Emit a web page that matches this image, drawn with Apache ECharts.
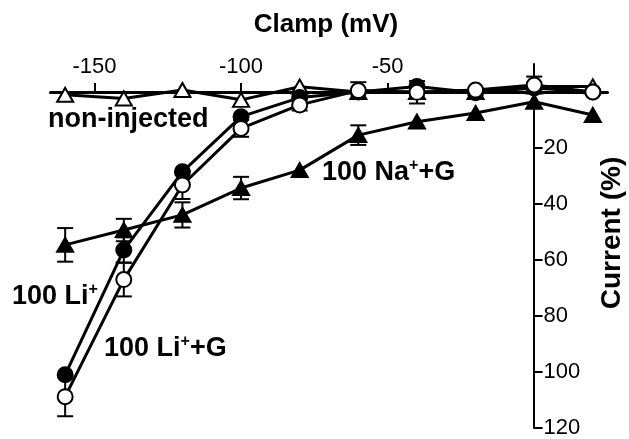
<!DOCTYPE html>
<html>
<head>
<meta charset="utf-8">
<script src="https://cdn.jsdelivr.net/npm/echarts@6/dist/echarts.min.js"></script>
<style>
  html, body { margin: 0; padding: 0; background: #fff; }
  #chart { width: 629px; height: 439px; }
</style>
</head>
<body>
<div id="chart"></div>
<script>
// Clamp voltages (mV)
const volts = [-160, -140, -120, -100, -80, -60, -40, -20, 0, 20];
// Current (%) series
const nonInjected = [-1, -2.3, 0.7, -2.8, 1.9, 0, 0, 0, 2, 2];
const li = [-101, -56.4, -28.5, -8.8, -2, 0, 2, -0.3, 1.4, 0];
const liG = [-108.8, -67, -33.2, -13, -4.6, 0.5, -0.1, 0.7, 2.5, 0];
const naG = [-54.6, -49.3, -43.9, -34.3, -27.9, -15.4, -10.6, -7.5, -3.5, -8.2];
// Error bars (+/-)
const naErr = [6, 4, 4.5, 4, 0, 3.5, 0, 0, 0, 0];
const liErr = [0, 4.5, 0, 0, 0, 0, 0, 0, 0, 0];
const liGErr = [7, 6, 5, 3, 2, 3, 4, 0, 3, 0];
// Tick labels
const xTicks = [-150, -100, -50];
const yTicks = [-20, -40, -60, -80, -100, -120];

const FONT = '"Liberation Sans", Arial, sans-serif';
const X_MIN = -165, X_MAX = 25, Y_MIN = -120, Y_MAX = 10;
const G = { left: 50.5, right: 21.5, top: 64, bottom: 11 };
const W = 629, H = 439;
const gw = W - G.left - G.right, gh = H - G.top - G.bottom;
// offsets that bring each axis onto the other axis' zero
const yOffset = -(gw * (X_MAX - 0) / (X_MAX - X_MIN));
const xOffset = -(gh * (Y_MAX - 0) / (Y_MAX - Y_MIN));

function pairs(ys) { return volts.map((v, i) => [v, ys[i]]); }
function errData(ys, es) {
  return volts.map((v, i) => [v, ys[i], es[i]]).filter(d => d[2] > 0);
}
function errSeries(ys, es) {
  return {
    type: 'custom',
    z: 1,
    data: errData(ys, es),
    encode: { x: 0, y: 1 },
    renderItem: function (params, api) {
      const x = api.value(0), y = api.value(1), e = api.value(2);
      const top = api.coord([x, y + e]);
      const bot = api.coord([x, y - e]);
      const hw = 8;
      const st = { stroke: '#000', lineWidth: 2 };
      return {
        type: 'group',
        children: [
          { type: 'line', shape: { x1: top[0], y1: top[1], x2: bot[0], y2: bot[1] }, style: st },
          { type: 'line', shape: { x1: top[0] - hw, y1: top[1], x2: top[0] + hw, y2: top[1] }, style: st },
          { type: 'line', shape: { x1: bot[0] - hw, y1: bot[1], x2: bot[0] + hw, y2: bot[1] }, style: st }
        ]
      };
    }
  };
}
function lineSeries(name, ys, symbol, filled, size) {
  return {
    name: name,
    type: 'line',
    z: 3,
    data: pairs(ys),
    symbol: symbol,
    symbolSize: size,
    showAllSymbol: true,
    clip: false,
    lineStyle: { color: '#000', width: 3 },
    itemStyle: { color: filled ? '#000' : '#fff', borderColor: '#000', borderWidth: 2 },
    emphasis: { disabled: true },
    animation: false
  };
}

const chart = echarts.init(document.getElementById('chart'), null, { renderer: 'canvas' });
chart.setOption({
  animation: false,
  backgroundColor: '#fff',
  grid: { left: G.left, right: G.right, top: G.top, bottom: G.bottom, containLabel: false, outerBoundsMode: 'none' },
  xAxis: {
    type: 'value',
    position: 'top',
    offset: xOffset,
    min: X_MIN,
    max: X_MAX,
    axisLine: { onZero: false, lineStyle: { color: '#000', width: 3 } },
    axisTick: { show: true, length: 9, lineStyle: { color: '#000', width: 2 }, customValues: xTicks },
    axisLabel: { color: '#000', fontSize: 22, fontFamily: FONT, margin: 14, customValues: xTicks },
    splitLine: { show: false }
  },
  yAxis: {
    type: 'value',
    position: 'right',
    offset: yOffset,
    min: Y_MIN,
    max: Y_MAX,
    axisLine: { onZero: false, lineStyle: { color: '#000', width: 2 } },
    axisTick: { show: true, length: 8, lineStyle: { color: '#000', width: 2 }, customValues: yTicks },
    axisLabel: { color: '#000', fontSize: 22, fontFamily: FONT, margin: 2, customValues: yTicks },
    splitLine: { show: false }
  },
  series: [
    errSeries(naG, naErr),
    errSeries(li, liErr),
    errSeries(liG, liGErr),
    lineSeries('non-injected', nonInjected, 'triangle', false, [16, 14]),
    lineSeries('100 Na+ +G', naG, 'triangle', true, [16, 14]),
    lineSeries('100 Li+', li, 'circle', true, 15),
    lineSeries('100 Li+ +G', liG, 'circle', false, 15)
  ],
  graphic: [
    { type: 'text', x: 326, y: 25, style: { text: 'Clamp (mV)', font: 'bold 26px ' + FONT, fill: '#000', align: 'center', verticalAlign: 'middle' } },
    { type: 'text', x: 612, y: 233, rotation: Math.PI / 2, style: { text: 'Current (%)', font: 'bold 28px ' + FONT, fill: '#000', align: 'center', verticalAlign: 'middle' } },
    { type: 'text', x: 48, y: 120, style: { text: 'non-injected', font: 'bold 27px ' + FONT, fill: '#000', align: 'left', verticalAlign: 'middle' } },
    { type: 'text', x: 322, y: 173, style: { text: '{n|100 Na}{s|+}{n|+G}', align: 'left', verticalAlign: 'middle',
      rich: { n: { fontSize: 27, fontWeight: 'bold', fontFamily: FONT, color: '#000', height: 30 }, s: { fontSize: 16, fontWeight: 'bold', fontFamily: FONT, color: '#000', verticalAlign: 'top' } } } },
    { type: 'text', x: 12, y: 297, style: { text: '{n|100 Li}{s|+}', align: 'left', verticalAlign: 'middle',
      rich: { n: { fontSize: 27, fontWeight: 'bold', fontFamily: FONT, color: '#000', height: 30 }, s: { fontSize: 16, fontWeight: 'bold', fontFamily: FONT, color: '#000', verticalAlign: 'top' } } } },
    { type: 'text', x: 104, y: 349, style: { text: '{n|100 Li}{s|+}{n|+G}', align: 'left', verticalAlign: 'middle',
      rich: { n: { fontSize: 27, fontWeight: 'bold', fontFamily: FONT, color: '#000', height: 30 }, s: { fontSize: 16, fontWeight: 'bold', fontFamily: FONT, color: '#000', verticalAlign: 'top' } } } }
  ]
});
</script>
</body>
</html>
